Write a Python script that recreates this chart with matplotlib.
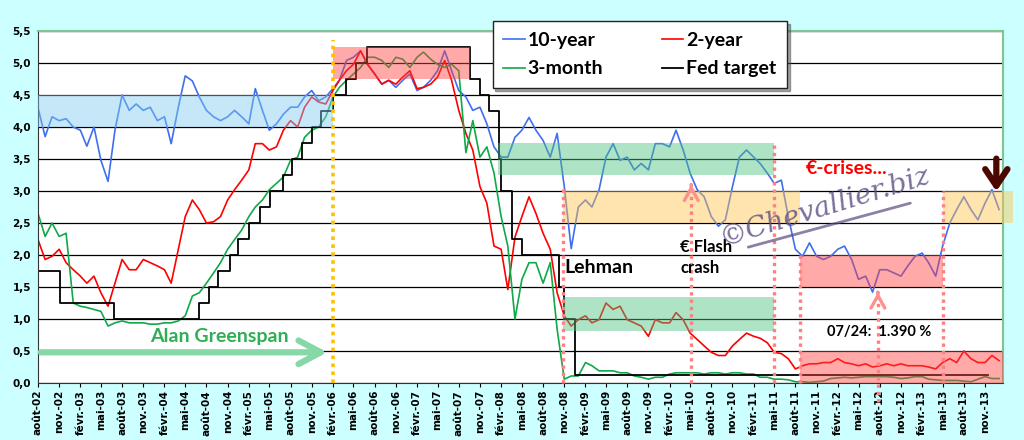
import matplotlib
matplotlib.use("Agg")
import matplotlib.pyplot as plt
import pandas as pd

# monthly readings, Aug 2002 .. Jan 2014 (first of month)
months = pd.date_range("2002-08-01", periods=138, freq="MS")

ten_year = [
    4.30, 3.85, 4.16, 4.10, 4.13, 4.00, 3.95, 3.70, 4.00, 3.48,
    3.15, 3.95, 4.50, 4.26, 4.36, 4.26, 4.31, 4.10, 4.16, 3.74,
    4.31, 4.80, 4.72, 4.47, 4.26, 4.16, 4.10, 4.16, 4.26, 4.16,
    4.05, 4.60, 4.26, 3.95, 4.05, 4.20, 4.31, 4.31, 4.47, 4.57,
    4.41, 4.47, 4.60, 4.73, 5.04, 5.09, 5.19, 4.98, 4.83, 4.67,
    4.73, 4.62, 4.73, 4.83, 4.57, 4.62, 4.73, 4.88, 5.19, 4.88,
    4.57, 4.47, 4.26, 4.31, 4.05, 3.69, 3.53, 3.53, 3.84, 3.95,
    4.15, 3.95, 3.79, 3.53, 3.90, 3.07, 2.10, 2.75, 2.86, 2.75,
    3.02, 3.53, 3.74, 3.48, 3.53, 3.33, 3.43, 3.33, 3.74, 3.74,
    3.69, 3.95, 3.64, 3.28, 3.02, 2.91, 2.60, 2.45, 2.55, 3.07,
    3.53, 3.64, 3.53, 3.43, 3.28, 3.12, 3.17, 2.60, 2.09, 1.98,
    2.19, 1.98, 1.93, 1.98, 2.09, 2.14, 1.93, 1.62, 1.67, 1.42,
    1.77, 1.77, 1.72, 1.67, 1.83, 1.98, 2.03, 1.88, 1.67, 2.14,
    2.50, 2.71, 2.91, 2.71, 2.55, 2.81, 3.02, 2.71,
]
two_year = [
    2.24, 1.93, 1.98, 2.09, 1.88, 1.77, 1.67, 1.56, 1.67, 1.41,
    1.20, 1.56, 1.93, 1.77, 1.77, 1.93, 1.88, 1.83, 1.77, 1.56,
    2.09, 2.60, 2.86, 2.71, 2.50, 2.52, 2.60, 2.86, 3.02, 3.17,
    3.33, 3.74, 3.74, 3.64, 3.69, 3.95, 4.10, 4.00, 4.31, 4.47,
    4.39, 4.36, 4.57, 4.73, 4.88, 4.98, 5.19, 4.98, 4.83, 4.67,
    4.73, 4.67, 4.78, 4.88, 4.60, 4.62, 4.67, 4.78, 5.04, 4.73,
    4.26, 3.90, 3.64, 3.07, 2.81, 2.14, 2.09, 1.46, 2.28, 2.60,
    2.91, 2.65, 2.34, 2.09, 1.41, 1.05, 0.89, 0.99, 1.05, 0.94,
    0.99, 1.25, 1.15, 1.20, 0.99, 0.94, 0.89, 0.73, 0.99, 0.94,
    0.94, 1.10, 0.99, 0.78, 0.68, 0.58, 0.48, 0.43, 0.43, 0.58,
    0.68, 0.78, 0.73, 0.70, 0.63, 0.48, 0.46, 0.38, 0.22, 0.27,
    0.30, 0.30, 0.32, 0.32, 0.38, 0.32, 0.30, 0.27, 0.30, 0.25,
    0.27, 0.30, 0.27, 0.30, 0.27, 0.27, 0.27, 0.25, 0.22, 0.32,
    0.38, 0.32, 0.50, 0.38, 0.32, 0.32, 0.43, 0.35,
]
three_month = [
    2.65, 2.29, 2.50, 2.29, 2.34, 1.25, 1.20, 1.18, 1.15, 1.12,
    0.89, 0.94, 0.97, 0.94, 0.94, 0.94, 0.92, 0.92, 0.94, 0.94,
    0.97, 1.05, 1.36, 1.41, 1.56, 1.72, 1.88, 2.09, 2.24, 2.39,
    2.60, 2.75, 2.86, 3.02, 3.12, 3.22, 3.48, 3.53, 3.84, 3.95,
    4.00, 4.16, 4.47, 4.62, 4.73, 4.83, 4.93, 5.09, 5.09, 5.04,
    4.93, 5.09, 5.06, 4.93, 5.09, 5.17, 5.06, 4.98, 4.93, 4.98,
    4.88, 3.60, 4.10, 3.53, 3.69, 3.28, 2.60, 2.14, 1.00, 1.62,
    1.88, 1.88, 1.56, 1.88, 0.84, 0.06, 0.11, 0.11, 0.32, 0.27,
    0.19, 0.19, 0.19, 0.16, 0.16, 0.11, 0.09, 0.06, 0.09, 0.09,
    0.14, 0.16, 0.16, 0.16, 0.16, 0.14, 0.16, 0.16, 0.14, 0.16,
    0.16, 0.14, 0.14, 0.09, 0.09, 0.06, 0.06, 0.05, 0.02, 0.02,
    0.01, 0.02, 0.03, 0.07, 0.08, 0.09, 0.08, 0.09, 0.10, 0.10,
    0.10, 0.10, 0.09, 0.07, 0.08, 0.10, 0.10, 0.06, 0.05, 0.04,
    0.04, 0.04, 0.03, 0.02, 0.06, 0.10, 0.07, 0.07,
]

# Fed funds target changes
fed_dates = [
    "2002-08-01", "2002-11-06", "2003-06-25", "2004-06-30", "2004-08-10",
    "2004-09-21", "2004-11-10", "2004-12-14", "2005-02-02", "2005-03-22",
    "2005-05-03", "2005-06-30", "2005-08-09", "2005-09-20", "2005-11-01",
    "2005-12-13", "2006-01-31", "2006-03-28", "2006-05-10", "2006-06-29",
    "2007-09-18", "2007-10-31", "2007-12-11", "2008-01-22", "2008-01-30",
    "2008-03-18", "2008-04-30", "2008-10-08", "2008-10-29", "2008-12-16",
    "2013-11-15",
]
fed_rates = [
    1.75, 1.25, 1.00, 1.25, 1.50, 1.75, 2.00, 2.25, 2.50, 2.75,
    3.00, 3.25, 3.50, 3.75, 4.00, 4.25, 4.50, 4.75, 5.00, 5.25,
    4.75, 4.50, 4.25, 3.50, 3.00, 2.25, 2.00, 1.50, 1.00, 0.125,
    0.125,
]

# shaded ranges
band_start = ["2002-08-01", "2006-02-01", "2008-01-20", "2008-10-28",
              "2011-08-20", "2008-10-28", "2011-08-20", "2013-05-01"]
band_end = ["2006-02-01", "2007-09-18", "2011-05-01", "2011-08-20",
            "2013-05-01", "2011-05-01", "2014-01-20", "2014-03-01"]
band_low = [4.0, 4.75, 3.25, 2.5, 1.5, 0.82, 0.0, 2.5]
band_high = [4.5, 5.25, 3.75, 3.0, 2.0, 1.35, 0.5, 3.0]
band_color = ["#7FCBEF", "#FF4040", "#4CC17F", "#FFC44D",
              "#FF4040", "#4CC17F", "#FF4040", "#FFC44D"]

# event markers
event_dates = ["2008-10-28", "2010-05-06", "2011-05-01", "2011-08-20",
               "2012-07-24", "2013-05-01"]
event_top = [3.05, 3.1, 3.75, 2.0, 1.42, 3.0]
event_bottom = [0.0, 0.0, 0.0, 0.0, -0.3, 0.0]

FR_MONTHS = ["janv.", "févr.", "mars", "avr.", "mai", "juin",
             "juil.", "août", "sept.", "oct.", "nov.", "déc."]

fig = plt.figure(figsize=(10.24, 4.4), dpi=100)
fig.patch.set_facecolor("#CCFFFF")
ax = fig.add_axes([0.0371, 0.1295, 0.9424, 0.80])
ax.set_facecolor("white")

l10, = ax.plot(months, ten_year, color="#3F6FF0", lw=1.2, zorder=2, label="10-year")
l2, = ax.plot(months, two_year, color="#FF0000", lw=1.2, zorder=2, label="2-year")
l3, = ax.plot(months, three_month, color="#10A848", lw=1.2, zorder=2, label="3-month")
fed_x = pd.to_datetime(fed_dates)
lf, = ax.step(fed_x, fed_rates, where="post", color="black", lw=1.3, zorder=2,
              label="Fed target")

for s, e, lo, hi, c in zip(band_start, band_end, band_low, band_high, band_color):
    ax.fill_between(pd.to_datetime([s, e]), lo, hi, color=c, alpha=0.45, lw=0,
                    zorder=3, clip_on=False)

# Greenspan era end
ax.vlines(pd.Timestamp("2006-02-01"), 0, 5.36, colors="#FFC000", lw=2.6,
          linestyles=(0, (1, 1.2)), zorder=4, clip_on=False)

for d, top, bot in zip(event_dates, event_top, event_bottom):
    ax.vlines(pd.Timestamp(d), bot, top, colors="#FF8080", lw=2.4,
              linestyles=(0, (1, 1.2)), zorder=4, clip_on=False)

for d, top in [(event_dates[1], event_top[1]), (event_dates[4], event_top[4])]:
    ax.annotate("", xy=(pd.Timestamp(d), top), xytext=(pd.Timestamp(d), top - 0.05),
                arrowprops=dict(arrowstyle="->,head_length=0.9,head_width=0.5",
                                color="#FF9090", lw=2.4), zorder=5)

ax.annotate("", xy=(pd.Timestamp("2006-01-20"), 0.48),
            xytext=(pd.Timestamp("2002-08-01"), 0.48),
            arrowprops=dict(arrowstyle="->,head_length=1.6,head_width=0.85",
                            color="#86D8A6", lw=4.5, capstyle="round"), zorder=5)
ax.text(pd.Timestamp("2003-12-01"), 0.72, "Alan Greenspan", color="#2FAE55",
        fontsize=14, fontweight="bold", family="Lato", va="center", zorder=6)

ax.annotate("", xy=(pd.Timestamp("2013-12-20"), 2.95),
            xytext=(pd.Timestamp("2013-12-20"), 3.55),
            arrowprops=dict(arrowstyle="->,head_length=1.2,head_width=0.8",
                            color="#4A0800", lw=4.5), zorder=6, annotation_clip=False)

ax.text(pd.Timestamp("2008-11-01"), 1.81, "Lehman", fontsize=14, fontweight="bold",
        family="Lato", va="center", zorder=6)
ax.text(pd.Timestamp("2010-03-20"), 2.12, "€ Flash", fontsize=12, fontweight="bold",
        family="Lato", va="center", zorder=6)
ax.text(pd.Timestamp("2010-03-20"), 1.79, "crash", fontsize=12, fontweight="bold",
        family="Lato", va="center", zorder=6)
ax.text(pd.Timestamp("2011-09-15"), 3.35, "€-crises...", color="#FF0000", fontsize=14,
        fontweight="bold", family="Lato", va="center", zorder=6)
ax.text(pd.Timestamp("2011-12-15"), 0.79, "07/24:  1.390 %", fontsize=10.5,
        fontweight="bold", family="Lato", va="center", zorder=6)

# watermark
ax.text(0.815, 0.50, "©Chevallier.biz", transform=ax.transAxes, rotation=17,
        fontsize=20, style="italic", family="DejaVu Serif", color="#5B4B80",
        alpha=0.8, ha="center", va="center", zorder=6)
ax.plot([0.736, 0.904], [0.386, 0.511], transform=ax.transAxes, color="#5B4B80",
        alpha=0.7, lw=2, solid_capstyle="round", zorder=6)

ax.set_ylim(0, 5.5)
ax.set_xlim(pd.Timestamp("2002-08-01"), pd.Timestamp("2014-01-18"))
ax.set_yticks([i * 0.5 for i in range(12)])
ax.set_yticklabels([f"{i * 0.5:.1f}".replace(".", ",") for i in range(12)],
                   fontsize=7.5, fontweight="bold")
ticks = pd.date_range("2002-08-01", "2013-11-01", freq="3MS")
ax.set_xticks(ticks)
ax.set_xticklabels([f"{FR_MONTHS[t.month - 1]}-{t:%y}" for t in ticks],
                   rotation=90, fontsize=7.5, fontweight="bold")
ax.tick_params(axis="y", length=0, pad=5)
ax.tick_params(axis="x", length=3, pad=2)
ax.grid(axis="y", color="black", lw=0.9, zorder=1)
ax.set_axisbelow(True)
for side in ("top", "right"):
    ax.spines[side].set_color("#7DC593")
    ax.spines[side].set_linewidth(1.5)
ax.spines["left"].set_color("#333333")
ax.spines["bottom"].set_color("#333333")

leg = ax.legend(handles=[l10, l3, l2, lf], ncol=2, loc="upper left",
                bbox_to_anchor=(0.481, 0.952), bbox_transform=fig.transFigure,
                prop=dict(family="Lato", weight="bold", size=14),
                frameon=True, fancybox=False, shadow=True, edgecolor="#222222",
                handlelength=1.1, handletextpad=0.15, columnspacing=3.0,
                labelspacing=0.6, borderpad=0.55, borderaxespad=0)
leg.get_frame().set_linewidth(1.0)
leg.set_zorder(10)

fig.savefig("out.png", dpi=100, facecolor=fig.get_facecolor())
